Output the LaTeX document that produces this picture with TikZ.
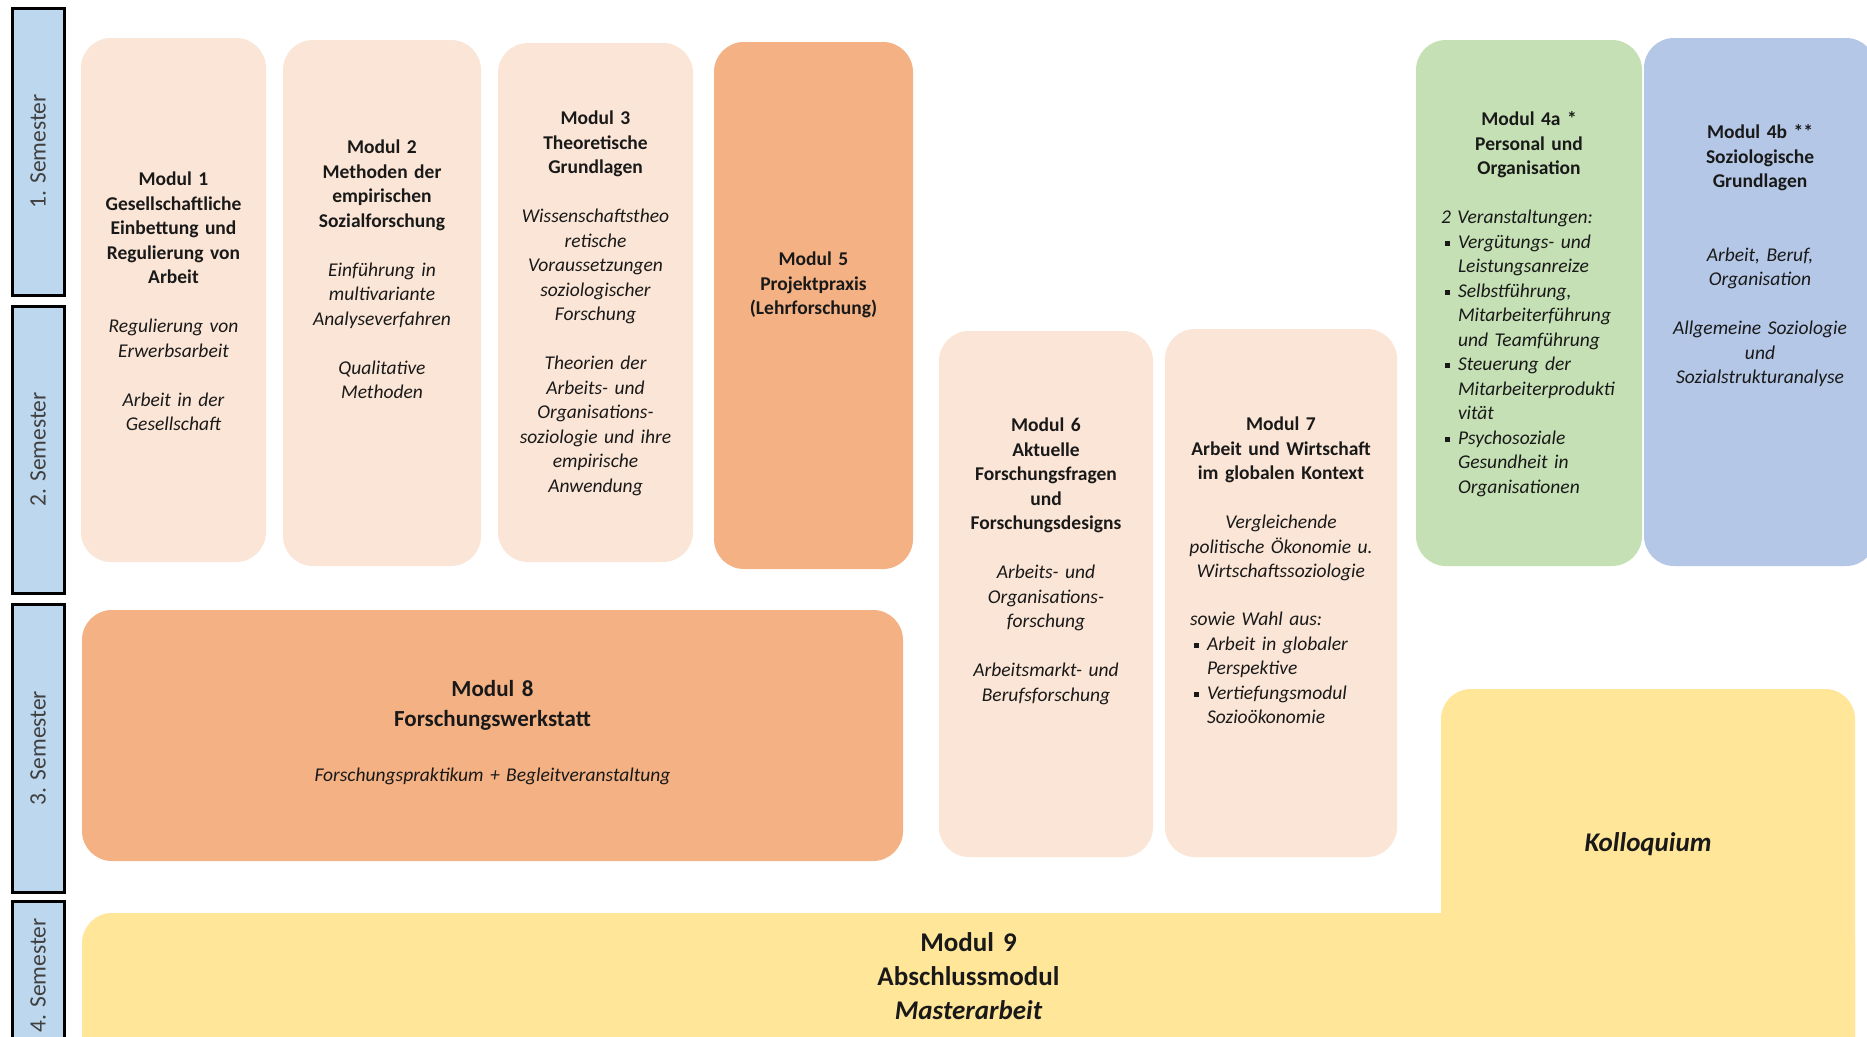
\documentclass[tikz,border=0pt]{standalone}
\usepackage{fontspec}
\setmainfont{Carlito}
\usetikzlibrary{positioning}
\setlength{\parindent}{0pt}

\definecolor{peach}{HTML}{FBE5D6}
\definecolor{apricot}{HTML}{F4B183}
\definecolor{sage}{HTML}{C5E0B4}
\definecolor{sky}{HTML}{B4C7E7}
\definecolor{sand}{HTML}{FFE699}
\definecolor{tabblue}{HTML}{BDD7EE}

\newcommand{\modfont}{\fontsize{19.5}{24.5}\selectfont}
\newcommand{\skipline}{\\[24.5pt]}
\newcommand{\sqbullet}{\makebox[17pt][l]{\hspace{4pt}\rule[2.5pt]{5pt}{5pt}}}
\newcommand{\indentline}{\hspace*{17pt}}

\begin{document}
\begin{tikzpicture}[x=1pt, y=-1pt,
    semester_tab/.style={draw=black, line width=3pt, fill=tabblue, minimum width=52pt, inner sep=0pt},
    tab_text/.style={rotate=90, inner sep=0pt, font=\fontsize{23.5}{28}\selectfont, text=black!75},
    module_box/.style={rounded corners=30pt, inner sep=0pt, draw=none},
    module_text/.style={font=\modfont, align=center, inner sep=0pt, text=black!90},
    list_text/.style={font=\modfont\itshape, align=left, inner sep=0pt, text=black!90, text width=210pt}
]
\useasboundingbox (0,0) rectangle (1867,1036);
\clip (0,0) rectangle (1867,1036);
\fill[white] (0,0) rectangle (1867,1036);

% Semester tabs
\node[semester_tab, minimum height=287pt] (sem1_tab) at (38,151.5) {};
\node[semester_tab, minimum height=287pt] (sem2_tab) at (38,449.5) {};
\node[semester_tab, minimum height=288pt] (sem3_tab) at (38,748) {};
\node[semester_tab, minimum height=149pt] (sem4_tab) at (38,975.5) {};
\node[tab_text] (sem1_text) at (sem1_tab) {1. Semester};
\node[tab_text] (sem2_text) at (sem2_tab) {2. Semester};
\node[tab_text] (sem3_text) at (sem3_tab) {3. Semester};
\node[tab_text] (sem4_text) at (sem4_tab) {4. Semester};

% Module boxes
\node[module_box, fill=peach, minimum width=185pt, minimum height=524pt] (mod1_box) at (173.5,300) {};
\node[module_box, fill=peach, minimum width=198pt, minimum height=526pt] (mod2_box) at (382,303) {};
\node[module_box, fill=peach, minimum width=195pt, minimum height=519pt] (mod3_box) at (595.5,302.5) {};
\node[module_box, fill=apricot, minimum width=199pt, minimum height=527pt] (mod5_box) at (813.5,305.5) {};
\node[module_box, fill=sage, minimum width=226pt, minimum height=526pt] (mod4a_box) at (1529,303) {};
\node[module_box, fill=sky, minimum width=232pt, minimum height=528pt] (mod4b_box) at (1760,302) {};
\node[module_box, fill=peach, minimum width=214pt, minimum height=526pt] (mod6_box) at (1046,594) {};
\node[module_box, fill=peach, minimum width=232pt, minimum height=528pt] (mod7_box) at (1281,593) {};
\node[module_box, fill=apricot, minimum width=821pt, minimum height=251pt] (mod8_box) at (492.5,735.5) {};
\node[module_box, fill=sand, minimum width=1773pt, minimum height=157pt] (mod9_box) at (968.5,991.5) {};
\node[module_box, fill=sand, minimum width=414pt, minimum height=381pt] (koll_box) at (1648,879.5) {};

% Module 1
\node[module_text, text width=180pt, below=134pt of mod1_box.north] (mod1_text)
  {\bfseries Modul 1\\ Gesellschaftliche\\ Einbettung und\\ Regulierung von\\ Arbeit\skipline
   \mdseries\itshape Regulierung von\\ Erwerbsarbeit\skipline Arbeit in der\\ Gesellschaft};

% Module 2
\node[module_text, text width=190pt, below=100pt of mod2_box.north] (mod2_text)
  {\bfseries Modul 2\\ Methoden der\\ empirischen\\ Sozialforschung\skipline
   \mdseries\itshape Einführung in\\ multivariante\\ Analyseverfahren\skipline Qualitative\\ Methoden};

% Module 3
\node[module_text, text width=190pt, below=68pt of mod3_box.north] (mod3_text)
  {\bfseries Modul 3\\ Theoretische\\ Grundlagen\skipline
   \mdseries\itshape Wissenschaftstheo\\ retische\\ Voraussetzungen\\ soziologischer\\ Forschung\skipline
   Theorien der\\ Arbeits- und\\ Organisations-\\ soziologie und ihre\\ empirische\\ Anwendung};

% Module 5
\node[module_text, text width=190pt, below=210pt of mod5_box.north] (mod5_text)
  {\bfseries Modul 5\\ Projektpraxis\\ (Lehrforschung)};

% Module 4a
\node[module_text, text width=215pt, below=72pt of mod4a_box.north] (mod4a_title)
  {\bfseries Modul 4a *\\ Personal und\\ Organisation};
\node[list_text, below right=170pt and 25pt of mod4a_box.north west] (mod4a_list)
  {2 Veranstaltungen:\\
   \sqbullet Vergütungs- und\\ \indentline Leistungsanreize\\
   \sqbullet Selbstführung,\\ \indentline Mitarbeiterführung\\ \indentline und Teamführung\\
   \sqbullet Steuerung der\\ \indentline Mitarbeiterprodukti\\ \indentline vität\\
   \sqbullet Psychosoziale\\ \indentline Gesundheit in\\ \indentline Organisationen};

% Module 4b
\node[module_text, text width=225pt, below=87pt of mod4b_box.north] (mod4b_text)
  {\bfseries Modul 4b **\\ Soziologische\\ Grundlagen\\[49pt]
   \mdseries\itshape Arbeit, Beruf,\\ Organisation\skipline
   Allgemeine Soziologie\\ und\\ Sozialstrukturanalyse};

% Module 6
\node[module_text, text width=205pt, below=87pt of mod6_box.north] (mod6_text)
  {\bfseries Modul 6\\ Aktuelle\\ Forschungsfragen\\ und\\ Forschungsdesigns\skipline
   \mdseries\itshape Arbeits- und\\ Organisations-\\ forschung\skipline
   Arbeitsmarkt- und\\ Berufsforschung};

% Module 7
\node[module_text, text width=225pt, below=88pt of mod7_box.north] (mod7_text)
  {\bfseries Modul 7\\ Arbeit und Wirtschaft\\ im globalen Kontext\skipline
   \mdseries\itshape Vergleichende\\ politische Ökonomie u.\\ Wirtschaftssoziologie};
\node[list_text, below right=283pt and 25pt of mod7_box.north west] (mod7_list)
  {sowie Wahl aus:\\
   \sqbullet Arbeit in globaler\\ \indentline Perspektive\\
   \sqbullet Vertiefungsmodul\\ \indentline Sozioökonomie};

% Module 8
\node[module_text, text width=600pt, font=\fontsize{23}{30}\selectfont\bfseries, below=70pt of mod8_box.north] (mod8_title)
  {Modul 8\\ Forschungswerkstatt};
\node[module_text, text width=600pt, font=\modfont\itshape, below=158pt of mod8_box.north] (mod8_sub)
  {Forschungspraktikum + Begleitveranstaltung};

% Module 9 and Kolloquium
\node[module_text, text width=600pt, font=\fontsize{27}{34}\selectfont\bfseries, below=20pt of mod9_box.north] (mod9_text)
  {Modul 9\\ Abschlussmodul\\ \itshape Masterarbeit};
\node[module_text, text width=400pt, font=\fontsize{27}{34}\selectfont\bfseries\itshape, below=144pt of koll_box.north] (koll_text)
  {Kolloquium};

\end{tikzpicture}
\end{document}
